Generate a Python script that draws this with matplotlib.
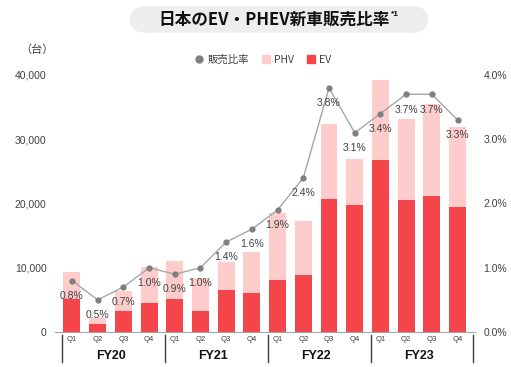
import numpy as np
import matplotlib.pyplot as plt
from matplotlib.patches import FancyBboxPatch, Patch
from matplotlib.lines import Line2D
import matplotlib.transforms as mtransforms

plt.rcParams['font.family'] = ['Liberation Sans', 'Noto Sans CJK JP', 'DejaVu Sans']

# data
years = ['FY20', 'FY21', 'FY22', 'FY23']
quarters = ['Q1', 'Q2', 'Q3', 'Q4']
ev = [5200, 1250, 3300, 4500, 5100, 3200, 6500, 6100,
      8100, 8800, 20700, 19750, 26750, 20600, 21150, 19500]
total = [9400, 2150, 6400, 10100, 11000, 8400, 10900, 12400,
         18500, 17300, 32300, 27000, 39200, 33200, 35500, 31900]
ratio = [0.8, 0.5, 0.7, 1.0, 0.9, 1.0, 1.4, 1.6,
         1.9, 2.4, 3.8, 3.1, 3.4, 3.7, 3.7, 3.3]
phv = [t - e for t, e in zip(total, ev)]

EV_C = '#f4454a'
PHV_C = '#ffcccc'
TXT = '#404040'

fig = plt.figure(figsize=(5.11, 3.67), dpi=100)
ax = fig.add_axes([0.1076, 0.0954, 0.822, 0.7003])
x = np.arange(len(ev))
ax.bar(x, ev, width=0.66, color=EV_C, zorder=2)
ax.bar(x, phv, width=0.66, bottom=ev, color=PHV_C, zorder=2)
ax.set_xlim(-0.66, 15.68)
ax.set_ylim(0, 40000)
ax.set_yticks([0, 10000, 20000, 30000, 40000])
ax.set_yticklabels(['0', '10,000', '20,000', '30,000', '40,000'])
ax.set_xticks([])
for s in ['top', 'right', 'left']:
    ax.spines[s].set_visible(False)
ax.spines['bottom'].set_color('#a6a6a6')
ax.tick_params(axis='y', length=0, labelsize=7.5, labelcolor=TXT, pad=6)

ax2 = ax.twinx()
ax2.set_ylim(0, 4.0)
ax2.set_yticks([0, 1, 2, 3, 4])
ax2.set_yticklabels(['%.1f%%' % v for v in [0, 1, 2, 3, 4]])
for s in ['top', 'right', 'left', 'bottom']:
    ax2.spines[s].set_visible(False)
ax2.tick_params(axis='y', length=0, labelsize=7.5, labelcolor=TXT, pad=6)
ax2.plot(x, ratio, color='#a6a6a6', lw=1, zorder=3)
ax2.plot(x, ratio, 'o', color='#7f7f7f', ms=3.5, zorder=4)
for xi, r in zip(x, ratio):
    ax2.annotate('%.1f%%' % r, (xi, r), xytext=(0, -11), textcoords='offset points',
                 ha='center', va='center', fontsize=7.5, color=TXT, zorder=5)

# category axis below
trans = mtransforms.blended_transform_factory(ax.transData, ax.transAxes)
for i in range(len(ev)):
    ax.text(i, -0.031, quarters[i % 4], transform=trans, ha='center', va='center',
            fontsize=5.5, color=TXT)
for g in range(len(years) + 1):
    ax.plot([g * 4 - 0.38, g * 4 - 0.38], [-0.012, -0.118], transform=trans,
            color='#404040', lw=1, clip_on=False)
for g, y in enumerate(years):
    ax.text(g * 4 + 1.5, -0.093, y, transform=trans, ha='center', va='center',
            fontsize=9, fontweight='bold', color='#111111')

# title
box = FancyBboxPatch((130 / 511, 1 - 33 / 367), 298 / 511, 27 / 367,
                     boxstyle='round,pad=0,rounding_size=0.035',
                     transform=fig.transFigure, facecolor='#eeeeee',
                     edgecolor='none', zorder=0.5)
fig.patches.append(box)
title = fig.text(0.537, 1 - 20 / 367, '日本のEV・PHEV新車販売比率', ha='center', va='center',
                 fontsize=12, fontweight='bold', color='#111111',
                 family=['Noto Sans CJK JP', 'DejaVu Sans'], zorder=5)
fig.canvas.draw()
bb = title.get_window_extent()
fig.text(bb.x1 / fig.bbox.width + 0.002, 1 - 14 / 367, '*1', ha='left', va='center',
         fontsize=6, fontweight='bold', color='#111111', zorder=5)
fig.text(37 / 511, 1 - 50 / 367, '（台）', ha='center', va='center', fontsize=8,
         color=TXT, family=['Noto Sans CJK JP'])

handles = [Line2D([], [], marker='o', ls='none', color='#7f7f7f', ms=5),
           Patch(color=PHV_C), Patch(color=EV_C)]
fig.legend(handles, ['販売比率', 'PHV', 'EV'], loc='center', ncol=3,
           bbox_to_anchor=(0.515, 1 - 60 / 367), frameon=False, fontsize=7.5,
           handlelength=0.8, handleheight=0.8, handletextpad=0.4, columnspacing=1.2,
           labelcolor=TXT, prop={'family': ['Noto Sans CJK JP'], 'size': 7.5})

fig.savefig('out.png', dpi=100)
